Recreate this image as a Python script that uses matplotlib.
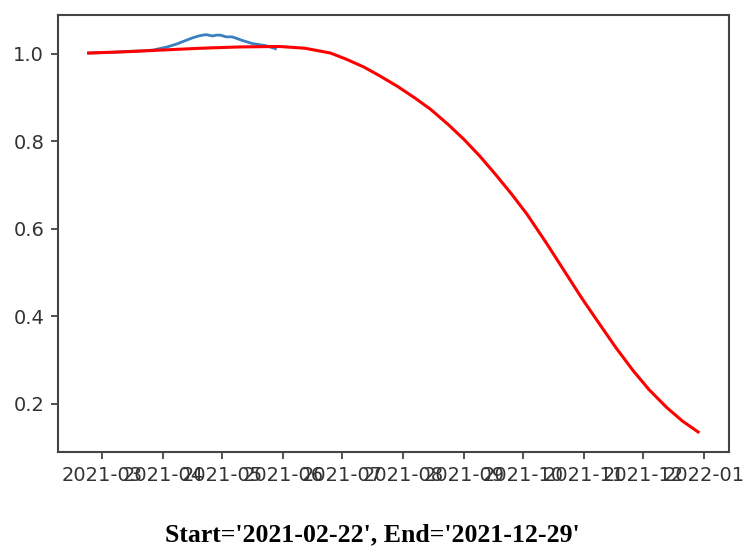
import matplotlib
matplotlib.use("Agg")
import matplotlib.pyplot as plt
import matplotlib.dates as mdates
import numpy as np

# Observed (blue) series
blue_dates = ["2021-02-22", "2021-03-01", "2021-03-08", "2021-03-15", "2021-03-22",
              "2021-03-27", "2021-03-30", "2021-04-03", "2021-04-08", "2021-04-12",
              "2021-04-16", "2021-04-19", "2021-04-21", "2021-04-23", "2021-04-26",
              "2021-04-28", "2021-04-30", "2021-05-03", "2021-05-06", "2021-05-08",
              "2021-05-11", "2021-05-14", "2021-05-16", "2021-05-20", "2021-05-23",
              "2021-05-26", "2021-05-28"]
blue_vals = [1.002, 1.003, 1.004, 1.006, 1.007,
             1.009, 1.012, 1.016, 1.023, 1.030,
             1.037, 1.041, 1.043, 1.044, 1.041,
             1.043, 1.043, 1.039, 1.039, 1.036,
             1.031, 1.027, 1.024, 1.021, 1.019,
             1.015, 1.012]

# Fitted (red) series
red_dates = ["2021-02-22", "2021-03-13", "2021-04-01", "2021-04-20", "2021-05-10",
             "2021-05-30", "2021-06-12", "2021-06-25", "2021-07-03", "2021-07-12",
             "2021-07-20", "2021-07-29", "2021-08-07", "2021-08-15", "2021-08-24",
             "2021-09-01", "2021-09-09", "2021-09-17", "2021-09-25", "2021-10-03",
             "2021-10-13", "2021-10-23", "2021-10-31", "2021-11-09", "2021-11-17",
             "2021-11-26", "2021-12-04", "2021-12-13", "2021-12-21", "2021-12-29"]
red_vals = [1.002, 1.005, 1.009, 1.013, 1.016,
            1.017, 1.013, 1.002, 0.988, 0.970,
            0.950, 0.926, 0.899, 0.873, 0.838,
            0.804, 0.766, 0.724, 0.680, 0.633,
            0.566, 0.496, 0.440, 0.381, 0.329,
            0.275, 0.232, 0.191, 0.160, 0.135]

caption = "Start='2021-02-22', End='2021-12-29'"

bd = np.array(blue_dates, dtype="datetime64[D]")
rd = np.array(red_dates, dtype="datetime64[D]")

fig = plt.figure(figsize=(7.45, 5.49), dpi=100)
ax = fig.add_axes([0.078, 0.177, 0.978 - 0.078, 0.973 - 0.177])

ax.plot(bd, blue_vals, color="#3a80c0", lw=2.0)
ax.plot(rd, red_vals, color="red", lw=2.2)

ax.xaxis.set_major_locator(mdates.MonthLocator())
ax.xaxis.set_major_formatter(mdates.DateFormatter("%Y-%m"))
ax.set_yticks([0.2, 0.4, 0.6, 0.8, 1.0])
ax.set_yticklabels(["0.2", "0.4", "0.6", "0.8", "1.0"])

ax.tick_params(axis="both", labelsize=14, length=5, width=1.2,
               colors="#333333", labelcolor="#333333", pad=5)
for s in ax.spines.values():
    s.set_color("#444444")
    s.set_linewidth(1.5)

fig.text(0.50, 1 - 541 / 549, caption, ha="center", va="baseline",
         fontsize=18.5, fontweight="bold", family="Liberation Serif")

fig.savefig("out.png", dpi=100)
